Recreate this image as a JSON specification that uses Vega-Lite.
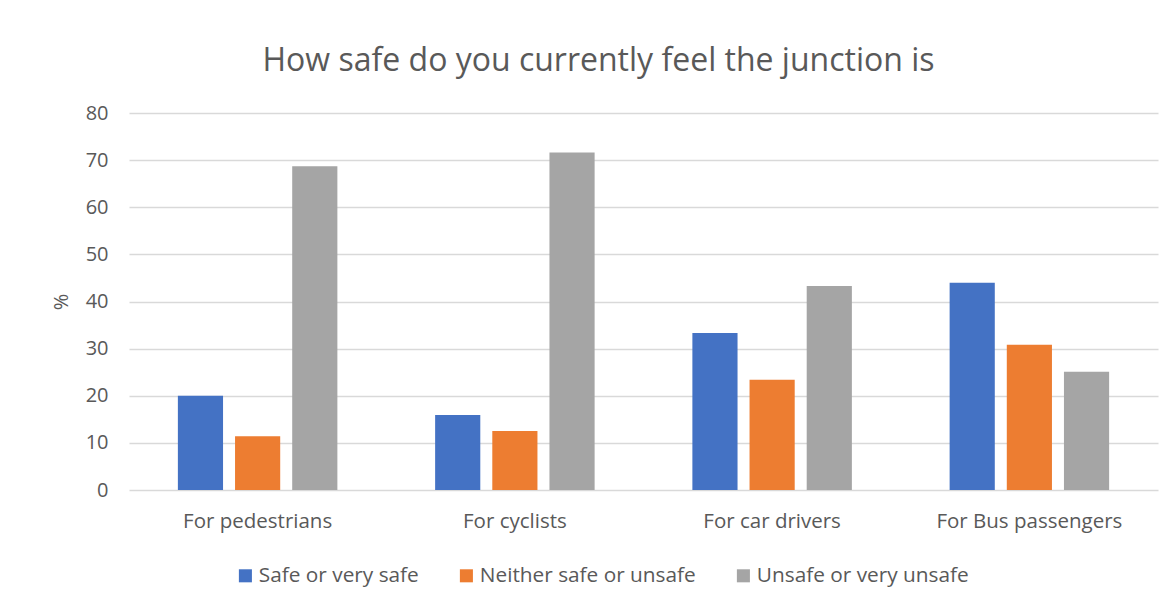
{
  "$schema": "https://vega.github.io/schema/vega-lite/v6.json",
  "width": 1029,
  "height": 377,
  "autosize": {"type": "none"},
  "padding": {"left": 129, "top": 113, "right": 17, "bottom": 111},
  "background": "white",
  "title": {
    "text": "How safe do you currently feel the junction is",
    "font": "Open Sans",
    "fontSize": 32,
    "fontWeight": "normal",
    "color": "#595959",
    "anchor": "middle",
    "frame": "group",
    "dx": -45,
    "offset": 25
  },
  "data": {
    "values": [
      {"group": "For pedestrians", "response": "Safe or very safe", "value": 20.0},
      {"group": "For pedestrians", "response": "Neither safe or unsafe", "value": 11.4},
      {"group": "For pedestrians", "response": "Unsafe or very unsafe", "value": 68.7},
      {"group": "For cyclists", "response": "Safe or very safe", "value": 15.9},
      {"group": "For cyclists", "response": "Neither safe or unsafe", "value": 12.5},
      {"group": "For cyclists", "response": "Unsafe or very unsafe", "value": 71.6},
      {"group": "For car drivers", "response": "Safe or very safe", "value": 33.3},
      {"group": "For car drivers", "response": "Neither safe or unsafe", "value": 23.4},
      {"group": "For car drivers", "response": "Unsafe or very unsafe", "value": 43.3},
      {"group": "For Bus passengers", "response": "Safe or very safe", "value": 44.0},
      {"group": "For Bus passengers", "response": "Neither safe or unsafe", "value": 30.8},
      {"group": "For Bus passengers", "response": "Unsafe or very unsafe", "value": 25.1}
    ]
  },
  "mark": {"type": "bar"},
  "encoding": {
    "x": {
      "field": "group",
      "type": "nominal",
      "sort": ["For pedestrians", "For cyclists", "For car drivers", "For Bus passengers"],
      "scale": {"paddingInner": 0.38, "paddingOuter": 0.19},
      "axis": {
        "title": null,
        "labelAngle": 0,
        "labelFont": "Open Sans",
        "labelFontSize": 20.5,
        "labelColor": "#595959",
        "labelPadding": 21,
        "labelLimit": 0,
        "ticks": false,
        "domain": false,
        "grid": false
      }
    },
    "xOffset": {
      "field": "response",
      "type": "nominal",
      "sort": ["Safe or very safe", "Neither safe or unsafe", "Unsafe or very unsafe"],
      "scale": {"paddingInner": 0.21, "paddingOuter": 0}
    },
    "y": {
      "field": "value",
      "type": "quantitative",
      "scale": {"domain": [0, 80]},
      "axis": {
        "title": "%",
        "titleFont": "Open Sans",
        "titleFontSize": 20,
        "titleFontWeight": "normal",
        "titleColor": "#595959",
        "titlePadding": 14,
        "values": [0, 10, 20, 30, 40, 50, 60, 70, 80],
        "labelFont": "Open Sans",
        "labelFontSize": 20,
        "labelColor": "#595959",
        "labelPadding": 21,
        "ticks": false,
        "domain": false,
        "grid": true,
        "gridColor": "#D9D9D9",
        "gridWidth": 1.3
      }
    },
    "color": {
      "field": "response",
      "type": "nominal",
      "sort": ["Safe or very safe", "Neither safe or unsafe", "Unsafe or very unsafe"],
      "scale": {
        "domain": ["Safe or very safe", "Neither safe or unsafe", "Unsafe or very unsafe"],
        "range": ["#4472C4", "#ED7D31", "#A5A5A5"]
      },
      "legend": {
        "title": null,
        "orient": "none",
        "direction": "horizontal",
        "legendX": 106,
        "legendY": 452,
        "symbolType": "square",
        "symbolSize": 170,
        "symbolStrokeWidth": 0,
        "labelFont": "Open Sans",
        "labelFontSize": 20.8,
        "labelColor": "#595959",
        "labelOffset": 3,
        "labelLimit": 0,
        "columnPadding": 37
      }
    }
  },
  "config": {"view": {"stroke": null}}
}
